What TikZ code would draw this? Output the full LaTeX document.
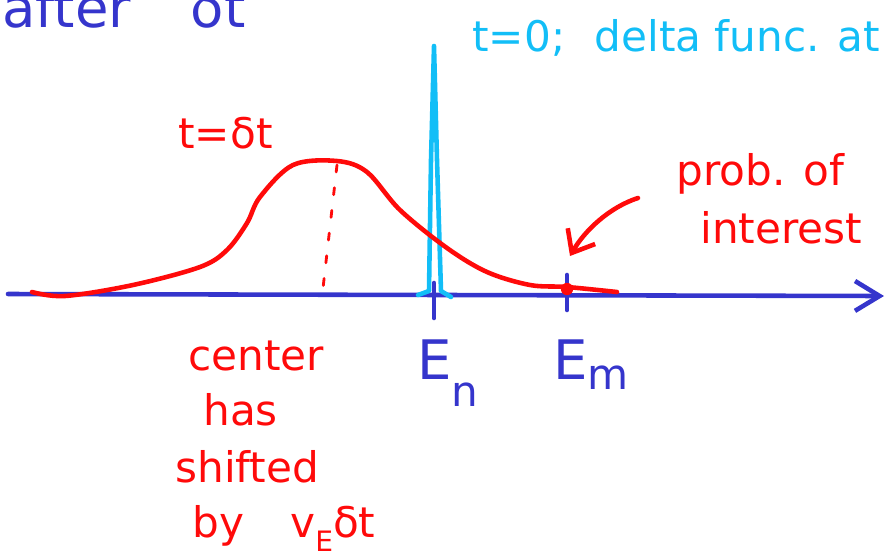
\documentclass[tikz,border=0pt]{standalone}
\usepackage{fontspec}
\setmainfont{DejaVu Sans}
\usetikzlibrary{arrows.meta}
\definecolor{penblue}{HTML}{3535CC}
\definecolor{pencyan}{HTML}{12BEF7}
\definecolor{penred}{HTML}{FF0A0A}

\begin{document}
\begin{tikzpicture}[x=0.02cm, y=-0.02cm, line cap=round, line join=round,
  ink/.style={line width=2.6pt},
  hand/.style={inner sep=0pt, anchor=base west, font=\fontsize{24}{26}\selectfont},
  big/.style={hand, font=\fontsize{31}{33}\selectfont}]
  \useasboundingbox (0,0) rectangle (887,559);
  % energy axis
  \coordinate (axl) at (8,294);
  \coordinate (axr) at (884,296);
  \draw[ink, penblue, -{Straight Barb[length=14pt, width=17pt]}] (axl) -- (axr);
  \draw[ink, penblue] (434,283) -- (434,318);
  \draw[ink, penblue] (567,275) -- (567,310);
  \node[big, penblue] (En) at (417,379) {E\raisebox{-.5em}{\fontsize{24}{24}\selectfont n}};
  \node[big, penblue] (Em) at (553,379) {E\raisebox{-.2em}{\fontsize{24}{24}\selectfont m}};
  % delta at t=0
  \draw[ink, pencyan] (418,295) -- (429,291) -- (431,160) -- (434,46) -- (437,160) -- (441,291) -- (451,297);
  % spread at t=dt
  \draw[ink, penred] plot[smooth, tension=0.55] coordinates {(32,292) (65,296) (133,285) (200,267) (227,250) (247,223) (260,197) (293,165) (337,161) (367,172) (400,210) (447,248) (487,272) (530,285) (567,287) (617,292)};
  \draw[penred, line width=1.6pt, dash pattern=on 4pt off 9pt] (337,165) -- (322,297);
  \node[circle, fill=penred, inner sep=0pt, minimum size=7pt] (mdot) at (567,289) {};
  % labels
  \node[big, penblue, anchor=base east, font=\fontsize{31}{33}\selectfont] (after) at (246,27) {after\hspace{1.1em}δt};
  \node[hand, pencyan] (tzero) at (472,51) {t=0;\hspace{0.7em}delta func. at};
  \node[hand, penred] (tdt) at (178,148) {t=δt};
  \node[hand, penred] (prob) at (676,185) {prob. of};
  \node[hand, penred] (intr) at (700,243) {interest};
  \node[hand, penred] (ctr) at (188,370) {center};
  \node[hand, penred] (has) at (203,425) {has};
  \node[hand, penred] (shf) at (175,482) {shifted};
  \node[hand, penred] (by) at (192,537) {by\hspace{1.1em}v\raisebox{-.35em}{\fontsize{16}{16}\selectfont E}δt};
  % pointer to the tail
  \coordinate (tail) at (638,198);
  \coordinate (tip) at (570,256);
  \draw[ink, penred, -{Straight Barb[length=11pt, width=18pt]}] (tail) .. controls (610,207) and (585,230) .. (tip);
\end{tikzpicture}
\end{document}
